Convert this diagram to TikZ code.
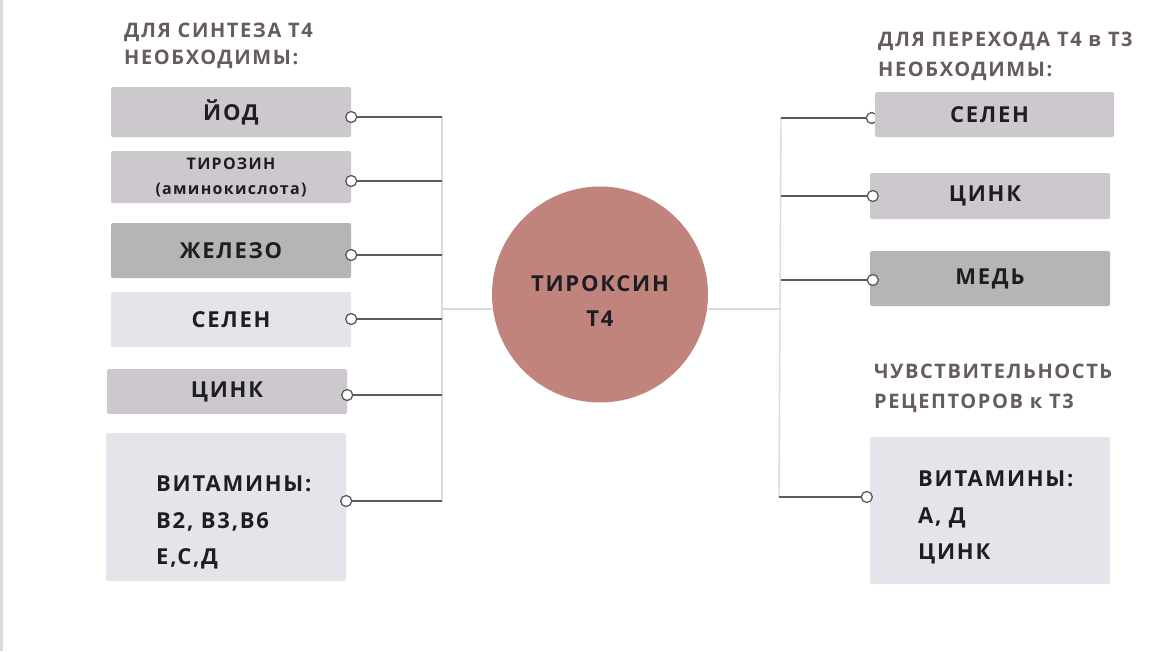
\documentclass[tikz,border=0pt]{standalone}
\usepackage{fontspec}
\setmainfont{Open Sans}[LetterSpace=8]
\definecolor{cmauve}{HTML}{CDC8CD}
\definecolor{cgrey}{HTML}{B5B6B3}
\definecolor{clight}{HTML}{E5E4EA}
\definecolor{cround}{HTML}{C0847D}
\definecolor{chead}{HTML}{665B5E}
\definecolor{ctext}{HTML}{1E1E22}
\definecolor{cline}{HTML}{5A5A5A}
\definecolor{cvert}{HTML}{DADADA}
\pgfdeclarelayer{bg}
\pgfdeclarelayer{back}
\pgfsetlayers{bg,back,main}
\begin{document}
\begin{tikzpicture}[x=1pt,y=-1pt,
  box/.style={rectangle,rounded corners=1.5pt,minimum width=240pt,inner sep=0pt,text=ctext,font=\bfseries\fontsize{22}{26}\selectfont},
  vtext/.style={anchor=north west,align=left,inner sep=0pt,text=ctext,font=\bfseries\fontsize{22}{36.5}\selectfont},
  head/.style={anchor=north west,align=left,inner sep=0pt,text=chead,font=\bfseries\fontsize{20}{30}\selectfont},
  conn/.style={draw=cline,line width=1.4pt},
  vline/.style={draw=cvert,line width=1.4pt},
  dot/.style={circle,draw=cline,fill=white,line width=1.3pt,minimum size=11pt,inner sep=0pt}]
\useasboundingbox (0,0) rectangle (1164,651);
\begin{pgfonlayer}{bg}
\fill[white] (0,0) rectangle (1164,651);
\fill[cvert] (0,0) rectangle (3,651);
\end{pgfonlayer}

% headers
\node[head,font=\bfseries\fontsize{20}{27}\selectfont] (hl) at (124,23) {ДЛЯ СИНТЕЗА Т4\\НЕОБХОДИМЫ:};
\node[head] (hr) at (878,32) {ДЛЯ ПЕРЕХОДА Т4 в Т3\\НЕОБХОДИМЫ:};
\node[head] (hs) at (874,364) {ЧУВСТВИТЕЛЬНОСТЬ\\РЕЦЕПТОРОВ к Т3};

% left boxes
\node[box,fill=cmauve,minimum height=50pt] (l1) at (231,112) {ЙОД};
\node[box,fill=cmauve,minimum height=52pt,align=center,font=\bfseries\fontsize{16}{25}\selectfont] (l2) at (231,177) {ТИРОЗИН\\(аминокислота)};
\node[box,fill=cgrey,minimum height=55pt] (l3) at (231,250.5) {ЖЕЛЕЗО};
\node[box,fill=clight,minimum height=55pt] (l4) at (231,319.5) {СЕЛЕН};
\node[box,fill=cmauve,minimum height=45pt] (l5) at (227,391.5) {ЦИНК};
\node[box,fill=clight,minimum height=148pt] (l6) at (226,507) {};
\node[vtext] (l6t) at (156,476) {ВИТАМИНЫ:\\В2, В3,В6\\Е,С,Д};

% right boxes
\node[box,fill=cmauve,minimum height=45pt,minimum width=239pt] (r1) at (994.5,114.5) {СЕЛЕН\hspace*{10pt}};
\node[box,fill=cmauve,minimum height=46pt] (r2) at (990,196) {ЦИНК\hspace*{10pt}};
\node[box,fill=cgrey,minimum height=55pt] (r3) at (990,278.5) {МЕДЬ};
\node[box,fill=clight,minimum height=147pt] (r4) at (990,510.5) {};
\node[vtext] (r4t) at (918,471) {ВИТАМИНЫ:\\А, Д\\ЦИНК};

% center
\node[circle,fill=cround,minimum size=216pt,inner sep=0pt] (c) at (600,294.5) {};
\node[align=center,inner sep=0pt,text=ctext,font=\bfseries\fontsize{22}{35}\selectfont] (ct) at (600,301) {ТИРОКСИН\\Т4};

% junction coordinates
\coordinate (j1) at (442,117);
\coordinate (j2) at (442,181);
\coordinate (j3) at (442,255);
\coordinate (j4) at (442,319);
\coordinate (j5) at (442,395);
\coordinate (j6) at (442,501);
\coordinate (jc) at (442,309);
\coordinate (k1) at (781,118);
\coordinate (k2) at (781,196);
\coordinate (k3) at (781,280);
\coordinate (k4) at (779,497);
\coordinate (kc) at (781,309);

\begin{pgfonlayer}{back}
\draw[vline] (j1) -- (j6);
\draw[vline] (k1) -- (k4);
\draw[vline] (jc) -- (c.west |- jc);
\draw[vline] (c.east |- kc) -- (kc);

\draw[conn] (l1.east |- j1) -- (j1);
\draw[conn] (l2.east |- j2) -- (j2);
\draw[conn] (l3.east |- j3) -- (j3);
\draw[conn] (l4.east |- j4) -- (j4);
\draw[conn] (l5.east |- j5) -- (j5);
\draw[conn] (l6.east |- j6) -- (j6);
\draw[conn] (k1) -- (r1.west |- k1);
\draw[conn] (k2) -- (r2.west |- k2);
\draw[conn] (k3) -- (r3.west |- k3);
\draw[conn] (k4) -- (r4.west |- k4);
\node[dot] at ([xshift=-3pt]r1.west |- k1) {};
\end{pgfonlayer}

\node[dot] at (l1.east |- j1) {};
\node[dot] at (l2.east |- j2) {};
\node[dot] at (l3.east |- j3) {};
\node[dot] at (l4.east |- j4) {};
\node[dot] at (l5.east |- j5) {};
\node[dot] at (l6.east |- j6) {};
\node[dot] at ([xshift=3pt]r2.west |- k2) {};
\node[dot] at ([xshift=3pt]r3.west |- k3) {};
\node[dot] at ([xshift=-3pt]r4.west |- k4) {};
\end{tikzpicture}
\end{document}
